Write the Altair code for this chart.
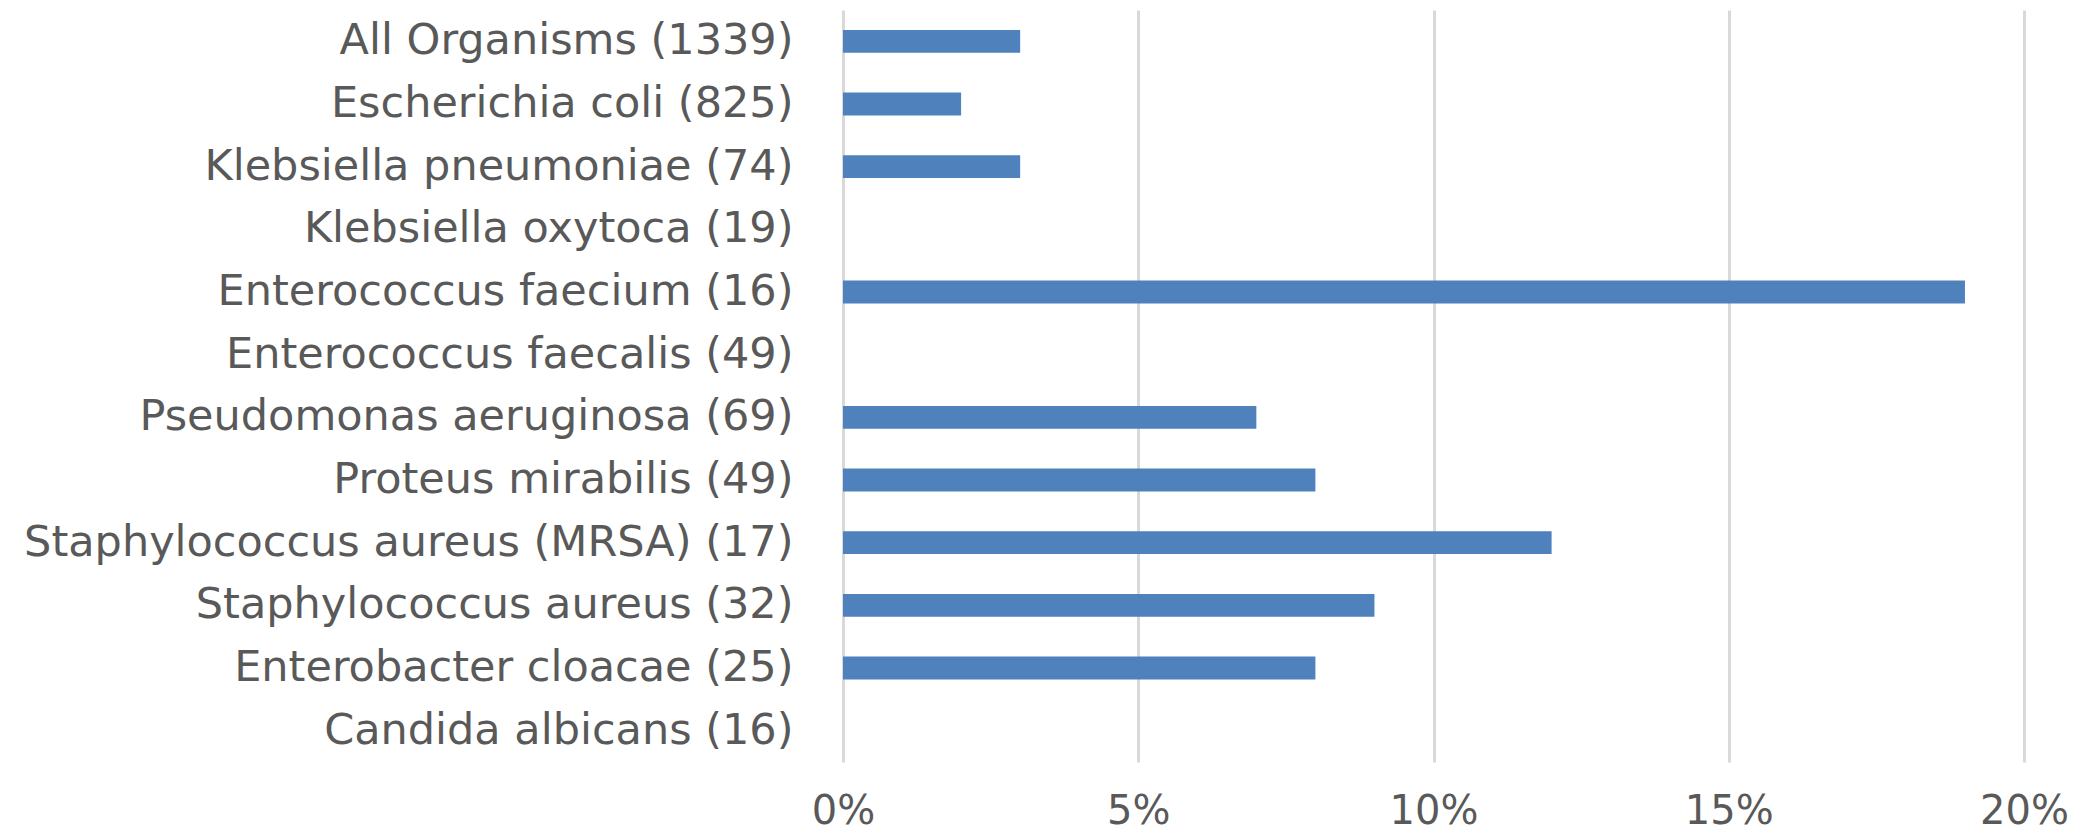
import altair as alt
import pandas as pd

organisms = [
    "All Organisms (1339)",
    "Escherichia coli (825)",
    "Klebsiella pneumoniae (74)",
    "Klebsiella oxytoca (19)",
    "Enterococcus faecium (16)",
    "Enterococcus faecalis (49)",
    "Pseudomonas aeruginosa (69)",
    "Proteus mirabilis (49)",
    "Staphylococcus aureus (MRSA) (17)",
    "Staphylococcus aureus (32)",
    "Enterobacter cloacae (25)",
    "Candida albicans (16)",
]
rates = [0.03, 0.02, 0.03, 0.0, 0.19, 0.0, 0.07, 0.08, 0.12, 0.09, 0.08, 0.0]
tick_values = [0.0, 0.05, 0.10, 0.15, 0.20]

df = pd.DataFrame({"organism": organisms, "rate": rates})

FONT = "DejaVu Sans"
TEXT = "#595959"

chart = (
    alt.Chart(df)
    .mark_bar(color="#4f81bd")
    .encode(
        x=alt.X(
            "rate:Q",
            scale=alt.Scale(domain=[0, 0.2], nice=False, zero=True),
            axis=alt.Axis(
                values=tick_values,
                format=".0%",
                title=None,
                grid=True,
                gridColor="#d9d9d9",
                gridWidth=3,
                domain=False,
                ticks=False,
                labelFont=FONT,
                labelFontSize=40,
                labelColor=TEXT,
                labelPadding=49,
                labelBaseline="middle",
                labelFlush=False,
            ),
        ),
        y=alt.Y(
            "organism:N",
            sort=organisms,
            scale=alt.Scale(paddingInner=0.635, paddingOuter=0.3175),
            axis=alt.Axis(
                title=None,
                domain=False,
                ticks=False,
                grid=False,
                labelFont=FONT,
                labelFontSize=43,
                labelColor=TEXT,
                labelPadding=50,
                labelLimit=1000,
            ),
        ),
    )
    .properties(
        width=1181,
        height=752,
        background="white",
        autosize=alt.AutoSizeParams(type="none"),
        padding={"left": 843, "top": 10, "right": 61, "bottom": 74},
    )
    .configure_view(stroke="transparent")
)

chart.save("out.html", embed_options={"renderer": "svg", "actions": False})
